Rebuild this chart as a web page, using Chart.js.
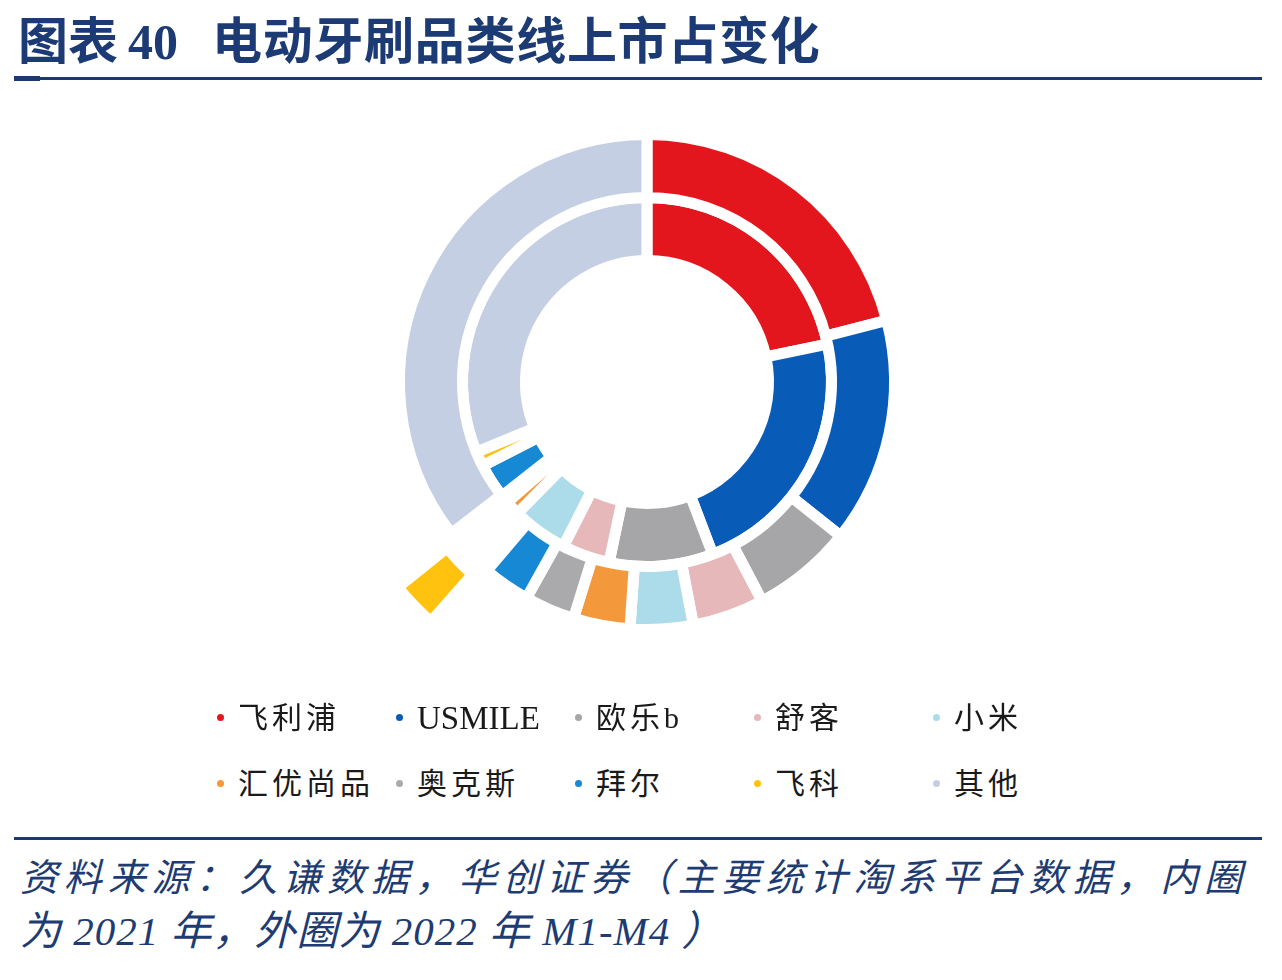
<!DOCTYPE html>
<html><head><meta charset="utf-8">
<script src="https://cdn.jsdelivr.net/npm/chart.js@4.4.1/dist/chart.umd.min.js"></script>
<style>
html,body{margin:0;padding:0;background:#fff;}
body{width:1282px;height:980px;position:relative;overflow:hidden;font-family:"Liberation Serif","Noto Sans CJK SC",serif;}
.title{position:absolute;top:12px;font-size:50px;line-height:60px;font-weight:700;color:#1C3B74;white-space:pre;}
.rule{position:absolute;left:14px;width:1248px;background:#1B3A6E;}
.src{position:absolute;left:20px;font-size:38px;line-height:50px;font-style:italic;color:#1E3C72;white-space:nowrap;}
.lg-dot{position:absolute;width:7px;height:7px;border-radius:50%;}
.lg-txt{position:absolute;font-size:30px;line-height:40px;color:#1a1a1a;white-space:nowrap;}
#c{position:absolute;left:317px;top:52px;}
</style></head>
<body>
<div class="title" style="left:18px">图表</div>
<div class="title" style="left:128px">40</div>
<div class="title" style="left:212px;letter-spacing:0.7px">电动牙刷品类线上市占变化</div>
<div class="rule" style="top:77px;height:3px"></div>
<div class="rule" style="top:76px;height:5px;width:26px"></div>
<canvas id="c" width="660" height="660"></canvas>
<div id="legend"></div>
<div class="rule" style="top:837px;height:3px"></div>
<div class="src" style="top:853px;width:1222px;text-align:justify;text-align-last:justify;">资料来源：久谦数据，华创证券（主要统计淘系平台数据，内圈</div>
<div class="src" style="top:906px;font-size:41px;letter-spacing:1px;">为 2021 年，外圈为 2022 年 M1-M4 ）</div>
<script>
// categories
const labels = ['飞利浦','USMILE','欧乐b','舒客','小米','汇优尚品','奥克斯','拜尔','飞科','其他'];
// outer ring: 2022 M1-M4 share (%)
const share2022 = [21.0, 14.7, 6.6, 4.7, 4.1, 3.7, 3.3, 3.1, 3.3, 35.5];
// inner ring: 2021 share (%)
const share2021 = [21.7, 22.5, 9.1, 4.2, 4.9, 1.3, 0.7, 3.1, 1.3, 31.2];

// styles
const colors = ['#E3161D','#085CB8','#A6A6A8','#E7B8BA','#ACDBEA','#F4983C','#AAAAAC','#1789D4','#FFC30F','#C5CFE4'];
const explodedLabel = '飞科';
const explodeOffset = 168;

new Chart(document.getElementById('c'), {
  type: 'doughnut',
  data: {
    labels: labels,
    datasets: [
      { label: '2022年M1-M4', data: share2022, backgroundColor: colors,
        offset: (ctx) => labels[ctx.dataIndex] === explodedLabel ? explodeOffset : 0 },
      { label: '2021年', data: share2021, backgroundColor: colors }
    ]
  },
  options: {
    responsive: false,
    animation: false,
    events: [],
    radius: 247.5,
    cutout: '49.0909%',
    rotation: 0,
    layout: { padding: 0 },
    elements: { arc: { borderWidth: 11, borderColor: '#ffffff', borderAlign: 'center', hoverOffset: 0 } },
    plugins: { legend: { display: false }, tooltip: { enabled: false } }
  }
});

// HTML legend built from the category list
const lg = document.getElementById('legend');
labels.forEach((name, i) => {
  const col = i % 5, row = Math.floor(i / 5);
  const cx = 220 + col * 179, cy = 717 + row * 66;
  const d = document.createElement('div');
  d.className = 'lg-dot';
  d.style.left = (cx - 3.5) + 'px';
  d.style.top = (cy - 3.5) + 'px';
  d.style.background = colors[i];
  lg.appendChild(d);
  const t = document.createElement('div');
  t.className = 'lg-txt';
  t.style.left = (cx + 18) + 'px';
  const latin = /^[A-Za-z]+$/.test(name);
  t.style.fontSize = latin ? '33px' : '30px';
  t.style.letterSpacing = latin ? '0px' : '4px';
  t.style.top = (cy - 19) + 'px';
  t.textContent = name;
  lg.appendChild(t);
});
</script>
</body></html>
